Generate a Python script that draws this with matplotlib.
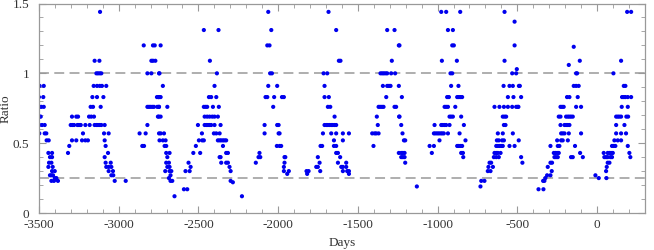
import numpy as np
import matplotlib
matplotlib.use("Agg")
import matplotlib.pyplot as plt
from matplotlib.ticker import MultipleLocator

plt.rcParams['font.family'] = ['Liberation Serif', 'DejaVu Serif']
plt.rcParams['axes.unicode_minus'] = False

# each cycle: ratio level -> days at which it was observed
cycle1 = {
    0.91: [-3496, -3470], 0.83: [-3500, -3473], 0.76: [-3496, -3485, -3470],
    0.69: [-3496, -3489], 0.63: [-3498, -3481, -3464], 0.57: [-3498, -3464, -3454],
    0.52: [-3452, -3439], 0.43: [-3441, -3418], 0.40: [-3431, -3418],
    0.36: [-3437, -3422], 0.33: [-3441, -3414], 0.30: [-3418, -3401],
    0.27: [-3431, -3422, -3412], 0.25: [-3401, -3391], 0.23: [-3422, -3406, -3381],
}
cycle2 = {
    0.43: [-3318, -3067], 0.48: [-3310, -3082],
    0.57: [-3224, -3092, -3063],
    0.52: [-3293, -3266, -3230, -3209, -3193, -3088],
    0.63: [-3301, -3291, -3280, -3259, -3249, -3238, -3209, -3182, -3151, -3140,
           -3130, -3119, -3109, -3088],
    0.69: [-3293, -3266, -3255, -3186, -3172, -3155],
    0.76: [-3176, -3161, -3113], 0.83: [-3165, -3136, -3096],
    0.91: [-3157, -3136, -3119, -3105, -3078],
    1.00: [-3140, -3130, -3119, -3109], 1.09: [-3151, -3121], 1.44: [-3117],
    0.40: [-3088], 0.36: [-3082, -3050], 0.33: [-3078, -3063, -3046],
    0.30: [-3063, -3036], 0.27: [-3046, -3034], 0.23: [-3025, -2956],
}
cycle3 = {
    0.57: [-2869, -2831, -2747, -2737, -2716],
    0.48: [-2852, -2841, -2712, -2702],
    0.63: [-2820],
    0.76: [-2820, -2810, -2800, -2789, -2779, -2758, -2747, -2748, -2695],
    0.69: [-2754, -2748, -2737],
    0.83: [-2760, -2749, -2748, -2737],
    1.00: [-2820, -2795, -2747, -2744],
    1.09: [-2795, -2785, -2770],
    1.20: [-2843, -2785, -2774, -2737],
    0.91: [-2723],
    0.52: [-2744, -2723, -2706],
    0.43: [-2702, -2681], 0.40: [-2695], 0.36: [-2702, -2685],
    0.33: [-2695, -2681], 0.30: [-2708, -2681, -2670], 0.27: [-2675],
    0.25: [-2685], 0.23: [-2675, -2664], 0.12: [-2650],
}
cycle4 = {
    0.17: [-2591, -2570], 0.30: [-2581, -2555, -2298], 0.33: [-2549, -2305],
    0.36: [-2562, -2357, -2326, -2315], 0.43: [-2532, -2489, -2326, -2315],
    0.48: [-2516, -2346],
    0.52: [-2497, -2476, -2466, -2378, -2367, -2357, -2346, -2336, -2326],
    0.57: [-2478, -2403, -2388, -2367],
    0.63: [-2503, -2461, -2451, -2440, -2430, -2420, -2399, -2361],
    0.69: [-2461, -2445, -2430, -2413, -2399, -2378],
    0.76: [-2466, -2455, -2445, -2409, -2372],
    0.83: [-2434, -2420, -2388], 0.91: [-2399], 1.00: [-2384], 1.09: [-2428],
    1.31: [-2466, -2374], 0.40: [-2367, -2361], 0.23: [-2298], 0.22: [-2284],
    0.12: [-2227],
}
cycle5 = {
    0.48: [-2008, -1991, -1981], 0.40: [-2123, -2112, -1960, -1955],
    0.36: [-2140, -1960], 0.43: [-2117],
    0.57: [-2085, -1997, -1991], 0.63: [-2085, -2006, -1997],
    0.76: [-2031], 0.83: [-2079, -2068, -2025, -1976, -1964],
    0.91: [-2062, -2006], 1.00: [-2050, -2039], 1.20: [-2068, -2054],
    1.31: [-2043], 1.44: [-2062], 0.33: [-1964],
    0.30: [-1964, -1933], 0.28: [-1943],
}
cycle6 = {
    0.30: [-1822, -1809, -1736, -1594, -1567, -1556], 0.28: [-1818, -1556],
    0.33: [-1761, -1751, -1604, -1594, -1573], 0.36: [-1740, -1625, -1573],
    0.40: [-1751, -1611], 0.48: [-1734, -1724, -1650, -1636],
    0.57: [-1719, -1667, -1636, -1594, -1556],
    0.63: [-1709, -1698, -1688, -1677, -1667, -1657, -1646, -1636],
    0.69: [-1646], 0.76: [-1688, -1673], 0.83: [-1709, -1682],
    0.91: [-1709], 1.00: [-1715, -1692], 1.09: [-1619, -1609],
    1.31: [-1636], 1.44: [-1684], 0.52: [-1650, -1594],
    0.43: [-1636, -1625],
}
cycle7 = {
    0.48: [-1402], 0.57: [-1410, -1395, -1385, -1370, -1220],
    0.63: [-1375, -1228], 0.69: [-1381, -1241, -1239],
    0.76: [-1370, -1360, -1349, -1339, -1270, -1260],
    0.83: [-1322, -1224],
    0.91: [-1343, -1316, -1305, -1295, -1243],
    1.00: [-1358, -1347, -1337, -1326, -1316, -1291, -1266],
    1.09: [-1287], 1.31: [-1316, -1270], 1.20: [-1243, -1239],
    0.52: [-1211, -1203],
    0.43: [-1243, -1228, -1218, -1207], 0.40: [-1228, -1218, -1207],
    0.36: [-1203], 0.19: [-1130],
}
cycle8 = {
    0.48: [-1050, -1023, -877, -867, -856, -846], 0.43: [-1036, -852, -841],
    0.52: [-988, -825],
    0.57: [-1023, -1013, -1002, -992, -981, -971, -961, -935, -862],
    0.63: [-1019, -977, -967, -956, -946, -925, -835],
    0.69: [-925, -915, -904, -852],
    0.76: [-956, -946, -935, -889],
    0.83: [-940, -929, -877, -867, -856, -846],
    0.91: [-915, -869], 1.00: [-919, -908], 1.09: [-973, -879],
    1.20: [-908, -898], 1.31: [-935, -904], 1.44: [-977, -946, -858],
    0.40: [-839],
}
cycle9 = {
    0.19: [-731], 0.23: [-726, -706], 0.30: [-685, -668], 0.33: [-681, -653],
    0.36: [-674, -664, -468], 0.40: [-647, -632, -616, -476],
    0.43: [-643, -632, -622, -605],
    0.48: [-632, -622, -612, -601, -591, -549, -517],
    0.52: [-628, -616, -595, -584, -491],
    0.57: [-622, -591, -528], 0.63: [-584, -574],
    0.69: [-591, -580, -570],
    0.76: [-643, -612, -584, -559, -532, -507, -497, -493],
    0.83: [-559, -524, -476], 0.91: [-586, -549, -528, -490, -484],
    1.00: [-532, -507], 1.03: [-503], 1.09: [-580], 1.20: [-517],
    1.37: [-517], 1.44: [-580],
}
cycle10 = {
    0.17: [-367, -336], 0.23: [-338, -330], 0.25: [-324], 0.27: [-313, -292],
    0.30: [-284], 0.33: [-309], 0.36: [-292, -282],
    0.40: [-267, -257, -246, -163, -152, -89],
    0.43: [-271, -261, -250, -240, -106],
    0.48: [-292, -246, -236, -138],
    0.52: [-250, -225, -215, -183],
    0.57: [-225, -215, -204, -177, -100],
    0.63: [-229, -204, -194, -183, -173],
    0.69: [-240, -229, -194, -183, -173, -163, -152],
    0.76: [-229, -219, -209, -131, -100],
    0.83: [-188, -173, -121], 0.91: [-146, -131, -115],
    1.00: [-131, -125], 1.06: [-177], 1.09: [-108], 1.19: [-146],
}
cycle11 = {
    0.27: [-10], 0.25: [11, 59], 0.30: [57], 0.33: [61], 0.36: [67, 78],
    0.40: [46, 57, 67, 84, 94, 209],
    0.43: [42, 67, 78, 88, 99, 203],
    0.48: [94, 105, 115, 193],
    0.52: [109, 130, 151], 0.57: [120, 151, 182], 0.63: [120, 172],
    0.69: [120, 130, 140, 151, 184, 195],
    0.76: [155, 193], 0.83: [157, 168, 178, 193, 214],
    0.91: [168, 178], 1.00: [103], 1.09: [151], 1.44: [189, 214],
}

cycles = [cycle1, cycle2, cycle3, cycle4, cycle5, cycle6,
          cycle7, cycle8, cycle9, cycle10, cycle11]

days = []
ratio = []
for c in cycles:
    for r, ds in c.items():
        days.extend(ds)
        ratio.extend([r] * len(ds))
days = np.array(days)
ratio = np.array(ratio)

fig = plt.figure(figsize=(6.54, 2.5), dpi=100)
ax = fig.add_subplot(111)
fig.subplots_adjust(left=0.0596, right=0.986, bottom=0.148, top=0.986)

ax.axhline(1.0, color='#999999', ls=(0, (6.5, 3.5)), lw=1.1, zorder=1)
ax.axhline(0.25, color='#999999', ls=(0, (6.5, 3.5)), lw=1.1, zorder=1)
ax.scatter(days, ratio, s=9, c='#0000ee', edgecolors='none', zorder=2)

ax.set_xlim(-3500, 300)
ax.set_ylim(0, 1.5)
ax.xaxis.set_major_locator(MultipleLocator(500))
ax.xaxis.set_minor_locator(MultipleLocator(100))
ax.yaxis.set_major_locator(MultipleLocator(0.5))
ax.yaxis.set_minor_locator(MultipleLocator(0.1))
ax.set_yticks([0, 0.5, 1, 1.5], ['0', '0.5', '1', '1.5'])

ax.tick_params(which='both', direction='in', top=True, right=True,
               color='#999999', labelsize=9.5, labelcolor='#333333')
ax.tick_params(axis='x', which='major', pad=4.5)
ax.tick_params(axis='y', which='major', pad=7)
ax.tick_params(which='major', length=5, width=0.8)
ax.tick_params(which='minor', length=3, width=0.6)
for s in ax.spines.values():
    s.set_color('#999999')
    s.set_linewidth(0.9)

ax.set_xlabel('Days', fontsize=9.5, color='#333333')
ax.set_ylabel('Ratio', fontsize=9.5, color='#333333')
ax.xaxis.set_label_coords(0.5, -0.115)
ax.yaxis.set_label_coords(-0.045, 0.5)

fig.savefig('out.png', dpi=100)
